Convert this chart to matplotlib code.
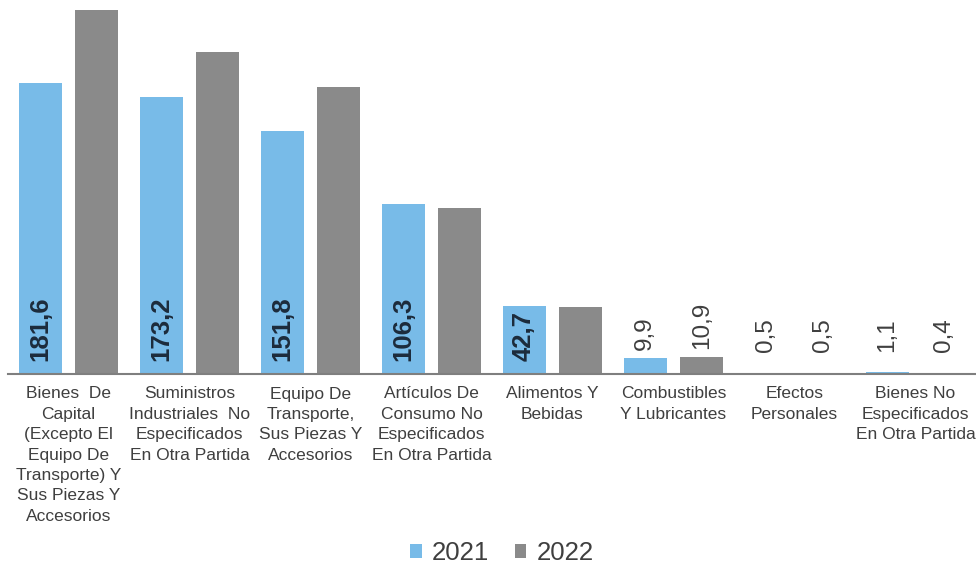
import matplotlib
matplotlib.use("Agg")
import matplotlib.pyplot as plt
import numpy as np

categories = [
    "Bienes  De\nCapital\n(Excepto El\nEquipo De\nTransporte) Y\nSus Piezas Y\nAccesorios",
    "Suministros\nIndustriales  No\nEspecificados\nEn Otra Partida",
    "Equipo De\nTransporte,\nSus Piezas Y\nAccesorios",
    "Artículos De\nConsumo No\nEspecificados\nEn Otra Partida",
    "Alimentos Y\nBebidas",
    "Combustibles\nY Lubricantes",
    "Efectos\nPersonales",
    "Bienes No\nEspecificados\nEn Otra Partida",
]
values_2021 = [181.6, 173.2, 151.8, 106.3, 42.7, 9.9, 0.5, 1.1]
values_2022 = [227.2, 201.0, 179.0, 103.6, 41.8, 10.9, 0.5, 0.4]
# which labels are shown (the 2022 large values have no labels in the reference)
show_2022 = [False, False, False, False, False, True, True, True]

c21 = "#78BBE8"
c22 = "#8A8A8A"
txt = "#3F3F3F"

fig = plt.figure(figsize=(9.76, 5.67), dpi=100)
ax = fig.add_axes([8/976, (567-374)/567, 1 - 8/976, 374/567])

x = np.arange(len(categories))
w = 0.355
off = 0.235
b1 = ax.bar(x - off, values_2021, w, color=c21, label="2021")
b2 = ax.bar(x + off, values_2022, w, color=c22, label="2022")

ax.set_xlim(-0.5, len(categories) - 0.5)
ax.set_ylim(0, 233.5)

for xi, v in zip(x, values_2021):
    s = f"{v:.1f}".replace(".", ",")
    if v > 20:
        ax.text(xi - off, 8, s, rotation=90, ha="center", va="bottom",
                fontsize=18.5, fontweight="bold", color="#1C2B3B", family="Liberation Sans")
    else:
        ax.text(xi - off, max(v + 5, 14), s, rotation=90, ha="center", va="bottom",
                fontsize=17.5, color=txt, family="Liberation Sans")
for xi, v, sh in zip(x, values_2022, show_2022):
    if sh:
        s = f"{v:.1f}".replace(".", ",")
        ax.text(xi + off, max(v + 5, 14), s, rotation=90, ha="center", va="bottom",
                fontsize=17.5, color=txt, family="Liberation Sans")

ax.set_xticks(x)
ax.set_xticklabels(categories, fontsize=12.5, color=txt, family="Liberation Sans",
                   linespacing=1.45)
ax.tick_params(axis="x", length=0, pad=9)
ax.set_yticks([])
for sp in ["top", "right", "left"]:
    ax.spines[sp].set_visible(False)
ax.spines["bottom"].set_color("#7F7F7F")
ax.spines["bottom"].set_linewidth(1.5)

leg = fig.legend(handles=[b1, b2], labels=["2021", "2022"], loc="center",
                 bbox_to_anchor=(502/976, 1 - 553/567), ncol=2, frameon=False,
                 prop={"family": "Liberation Sans", "size": 18.5},
                 handlelength=0.45, handleheight=0.45, handletextpad=0.4, columnspacing=1.0,
                 borderpad=0.1)
for t in leg.get_texts():
    t.set_color(txt)

fig.savefig("out.png", dpi=100)
